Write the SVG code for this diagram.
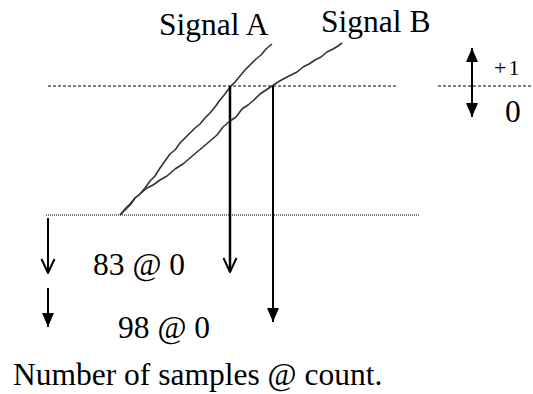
<svg xmlns="http://www.w3.org/2000/svg" width="533" height="394" viewBox="0 0 533 394">
<defs>
<marker id="fill" viewBox="0 0 14 12" refX="14" refY="6" markerWidth="14" markerHeight="12" markerUnits="userSpaceOnUse" orient="auto-start-reverse">
<path d="M0,0 L14,6 L0,12 Z" fill="#000"/>
</marker>
<marker id="open" viewBox="0 0 16 16" refX="15" refY="8" markerWidth="16" markerHeight="16" markerUnits="userSpaceOnUse" orient="auto">
<path d="M1,1.5 L15,8 L1,14.5" fill="none" stroke="#000" stroke-width="2"/>
</marker>
</defs>
<style>
text{font-family:"Liberation Serif","Times New Roman",serif;font-size:31.5px;fill:#000}
.dash{stroke:#000;stroke-width:1;stroke-dasharray:3 2;fill:none}
.dot{stroke:#000;stroke-width:1;stroke-dasharray:1 1;fill:none}
.sig{stroke:#333;stroke-width:1.6;fill:none;stroke-linejoin:round}
.arr{stroke:#000;fill:none}
</style>
<g id="guides">
<line class="dash" x1="48" y1="86" x2="397" y2="86"/>
<line class="dash" x1="438" y1="86" x2="533" y2="86"/>
<line class="dot" x1="46" y1="215" x2="420" y2="215"/>
</g>
<g id="signalA">
<polyline class="sig" points="120,215 126,209 131,204 135,198 140,194 145,188 150,181 155,176 160,168 165,161 170,154 175,150 180,143 185,138 190,133 195,128 200,124 205,118 210,113 215,107 220,100 225,94 230,87 235,82 240,76 245,70 250,65 256,59 261,55 266,49 272,44"/>
</g>
<g id="signalB">
<polyline class="sig" points="120,215 125,209 130,204 135,198 140,194 147,188 153,185 160,180 167,176 175,169 183,164 190,158 197,152 203,147 210,141 217,135 223,127 230,121 236,117 242,109 248,105 254,100 260,94 266,90 272,86 278,82 285,78 291,75 297,72 303,67 309,64 315,60 321,57 327,52 333,49 338,46 342,43"/>
</g>
<g id="connectors">
<line class="arr" stroke-width="2.5" x1="230" y1="86" x2="230" y2="272" marker-end="url(#open)"/>
<line class="arr" stroke-width="2" x1="273" y1="86" x2="273" y2="322" marker-end="url(#fill)"/>
<line class="arr" stroke-width="2" x1="48" y1="218" x2="48" y2="273" marker-end="url(#open)"/>
<line class="arr" stroke-width="2" x1="48" y1="288" x2="48" y2="327" marker-end="url(#fill)"/>
<line class="arr" stroke-width="2" x1="472" y1="48" x2="472" y2="117" marker-start="url(#fill)" marker-end="url(#fill)"/>
</g>
<g id="labels">
<text x="494" y="75" style="font-size:22px;letter-spacing:2px">+1</text>
<text x="159" y="35">Signal A</text>
<text x="321" y="32">Signal B</text>
<text x="505" y="122">0</text>
<text x="93" y="275">83 @ 0</text>
<text x="118" y="338">98 @ 0</text>
<text x="13" y="385">Number of samples @ count.</text>
</g>
</svg>
